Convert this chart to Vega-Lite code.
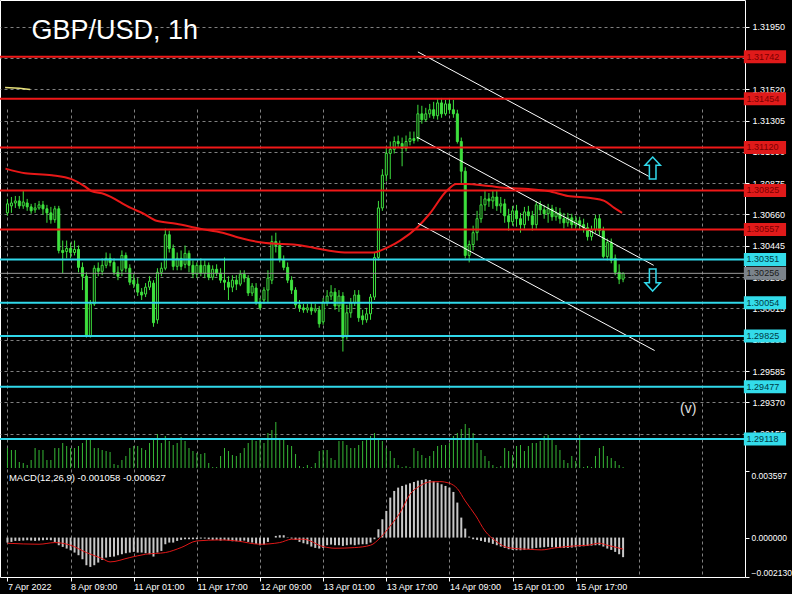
{
"$schema": "https://vega.github.io/schema/vega-lite/v6.json",
"background": "#000000",
"autosize": {"type": "none"},
"padding": {"left": 0, "top": 0, "right": 47, "bottom": 17},
"width": 745,
"height": 577,
"config": {
 "view": {"stroke": "#ffffff", "strokeWidth": 1},
 "axis": {"domain": false, "grid": true, "gridColor": "#808080", "gridDash": [3,3], "gridWidth": 1, "labelColor": "#ffffff", "tickColor": "#ffffff", "tickSize": 4, "labelFont": "Liberation Sans", "labelFontSize": 9, "zindex": 0, "labelOverlap": false, "labelBound": false},
 "text": {"font": "Liberation Sans"}
},
"datasets": {
 "bars": [
{"i":0,"o":1.30671,"h":1.30767,"l":1.30651,"c":1.30733,"v":2000,"m":-0.00027},
{"i":1,"o":1.30719,"h":1.3078,"l":1.30671,"c":1.30739,"v":1800,"m":-0.000234},
{"i":2,"o":1.30739,"h":1.30787,"l":1.30705,"c":1.30753,"v":1800,"m":-0.00018},
{"i":3,"o":1.30753,"h":1.30787,"l":1.30699,"c":1.30719,"v":600,"m":-0.00018},
{"i":4,"o":1.30719,"h":1.30821,"l":1.30699,"c":1.30746,"v":500,"m":-0.000162},
{"i":5,"o":1.30739,"h":1.30767,"l":1.30685,"c":1.30712,"v":300,"m":-0.000144},
{"i":6,"o":1.30712,"h":1.30733,"l":1.30665,"c":1.30685,"v":800,"m":-0.000162},
{"i":7,"o":1.30692,"h":1.30739,"l":1.30671,"c":1.30705,"v":2000,"m":-0.00018},
{"i":8,"o":1.30705,"h":1.30753,"l":1.30692,"c":1.30726,"v":1800,"m":-0.000162},
{"i":9,"o":1.30726,"h":1.30753,"l":1.30658,"c":1.30699,"v":1800,"m":-0.000144},
{"i":10,"o":1.30699,"h":1.30726,"l":1.30603,"c":1.30671,"v":800,"m":-0.000126},
{"i":11,"o":1.30671,"h":1.30712,"l":1.30597,"c":1.30624,"v":800,"m":-0.000144},
{"i":12,"o":1.30624,"h":1.30719,"l":1.30603,"c":1.30699,"v":2000,"m":-0.000234},
{"i":13,"o":1.30699,"h":1.30719,"l":1.30393,"c":1.30413,"v":2000,"m":-0.000414},
{"i":14,"o":1.30413,"h":1.30481,"l":1.30257,"c":1.30399,"v":2500,"m":-0.000504},
{"i":15,"o":1.30406,"h":1.30481,"l":1.30359,"c":1.30427,"v":2200,"m":-0.000594},
{"i":16,"o":1.30427,"h":1.30467,"l":1.30359,"c":1.30399,"v":2000,"m":-0.000684},
{"i":17,"o":1.30399,"h":1.30481,"l":1.30379,"c":1.3042,"v":2000,"m":-0.00081},
{"i":18,"o":1.3042,"h":1.30447,"l":1.30263,"c":1.30297,"v":2200,"m":-0.000954},
{"i":19,"o":1.30297,"h":1.30331,"l":1.30141,"c":1.30236,"v":2500,"m":-0.00117},
{"i":20,"o":1.30236,"h":1.30263,"l":1.29815,"c":1.29828,"v":3000,"m":-0.001494},
{"i":21,"o":1.29828,"h":1.30073,"l":1.29815,"c":1.30046,"v":2800,"m":-0.001584},
{"i":22,"o":1.30046,"h":1.30311,"l":1.30032,"c":1.30291,"v":2000,"m":-0.001494},
{"i":23,"o":1.30291,"h":1.30331,"l":1.30236,"c":1.3027,"v":2000,"m":-0.00135},
{"i":24,"o":1.3027,"h":1.30359,"l":1.30243,"c":1.30311,"v":1800,"m":-0.001206},
{"i":25,"o":1.30311,"h":1.30399,"l":1.30291,"c":1.30359,"v":1700,"m":-0.00108},
{"i":26,"o":1.30359,"h":1.30393,"l":1.30304,"c":1.30331,"v":1600,"m":-0.001044},
{"i":27,"o":1.30331,"h":1.30359,"l":1.30243,"c":1.30263,"v":400,"m":-0.001026},
{"i":28,"o":1.30263,"h":1.30304,"l":1.30209,"c":1.30236,"v":300,"m":-0.000954},
{"i":29,"o":1.30277,"h":1.30413,"l":1.30236,"c":1.30379,"v":800,"m":-0.0009},
{"i":30,"o":1.30379,"h":1.30399,"l":1.30263,"c":1.30291,"v":1200,"m":-0.000846},
{"i":31,"o":1.30291,"h":1.30318,"l":1.30175,"c":1.30195,"v":2000,"m":-0.00081},
{"i":32,"o":1.30209,"h":1.3025,"l":1.30155,"c":1.30182,"v":2200,"m":-0.000774},
{"i":33,"o":1.30182,"h":1.30223,"l":1.301,"c":1.30127,"v":2200,"m":-0.00081},
{"i":34,"o":1.30127,"h":1.30155,"l":1.30073,"c":1.30107,"v":2000,"m":-0.00081},
{"i":35,"o":1.30114,"h":1.30189,"l":1.30093,"c":1.30161,"v":1800,"m":-0.000846},
{"i":36,"o":1.30161,"h":1.30236,"l":1.30141,"c":1.30202,"v":2500,"m":-0.0009},
{"i":37,"o":1.30189,"h":1.30209,"l":1.29889,"c":1.29917,"v":3000,"m":-0.001026},
{"i":38,"o":1.29937,"h":1.30291,"l":1.2991,"c":1.30263,"v":3400,"m":-0.00081},
{"i":39,"o":1.30263,"h":1.30331,"l":1.30236,"c":1.30291,"v":2500,"m":-0.00072},
{"i":40,"o":1.30291,"h":1.30563,"l":1.30277,"c":1.30521,"v":3200,"m":-0.00036},
{"i":41,"o":1.30521,"h":1.30549,"l":1.30399,"c":1.30427,"v":2700,"m":-0.00027},
{"i":42,"o":1.30427,"h":1.30454,"l":1.30277,"c":1.30304,"v":2300,"m":-0.00027},
{"i":43,"o":1.30304,"h":1.30399,"l":1.30277,"c":1.30359,"v":2500,"m":-0.00018},
{"i":44,"o":1.30359,"h":1.30413,"l":1.30277,"c":1.30304,"v":3100,"m":-0.000126},
{"i":45,"o":1.30318,"h":1.30447,"l":1.30291,"c":1.30393,"v":2700,"m":-0.00009},
{"i":46,"o":1.30393,"h":1.30413,"l":1.30263,"c":1.30311,"v":2000,"m":-0.00009},
{"i":47,"o":1.30311,"h":1.30345,"l":1.30223,"c":1.3025,"v":1700,"m":-0.00009},
{"i":48,"o":1.3025,"h":1.30331,"l":1.30223,"c":1.30311,"v":1500,"m":-0.00009},
{"i":49,"o":1.30311,"h":1.30359,"l":1.30236,"c":1.30257,"v":1400,"m":-0.000054},
{"i":50,"o":1.30257,"h":1.30345,"l":1.30223,"c":1.30311,"v":1500,"m":-0.000054},
{"i":51,"o":1.30311,"h":1.30331,"l":1.30209,"c":1.30229,"v":500,"m":-0.00009},
{"i":52,"o":1.30229,"h":1.30311,"l":1.30209,"c":1.30284,"v":100,"m":-0.000126},
{"i":53,"o":1.30284,"h":1.30318,"l":1.30236,"c":1.30257,"v":100,"m":-0.000126},
{"i":54,"o":1.30257,"h":1.30291,"l":1.30189,"c":1.30209,"v":1200,"m":-0.000162},
{"i":55,"o":1.30209,"h":1.30365,"l":1.30141,"c":1.30195,"v":2000,"m":-0.000126},
{"i":56,"o":1.30195,"h":1.30236,"l":1.30073,"c":1.30161,"v":1700,"m":-0.000162},
{"i":57,"o":1.30161,"h":1.30243,"l":1.30127,"c":1.30209,"v":1300,"m":-0.000198},
{"i":58,"o":1.30209,"h":1.30243,"l":1.30141,"c":1.30182,"v":1200,"m":-0.000198},
{"i":59,"o":1.30182,"h":1.30277,"l":1.30168,"c":1.3025,"v":1500,"m":-0.00018},
{"i":60,"o":1.3025,"h":1.30277,"l":1.30195,"c":1.30223,"v":2000,"m":-0.000162},
{"i":61,"o":1.30223,"h":1.30243,"l":1.301,"c":1.30121,"v":2500,"m":-0.000234},
{"i":62,"o":1.30121,"h":1.30189,"l":1.301,"c":1.30168,"v":2800,"m":-0.00027},
{"i":63,"o":1.30155,"h":1.30189,"l":1.30039,"c":1.30059,"v":2700,"m":-0.000342},
{"i":64,"o":1.30059,"h":1.30087,"l":1.30005,"c":1.30019,"v":2800,"m":-0.000414},
{"i":65,"o":1.30073,"h":1.30161,"l":1.30046,"c":1.30141,"v":2500,"m":-0.000378},
{"i":66,"o":1.30141,"h":1.30277,"l":1.30059,"c":1.30223,"v":3500,"m":-0.000234},
{"i":67,"o":1.30209,"h":1.30515,"l":1.30182,"c":1.30474,"v":3800,"m":0},
{"i":68,"o":1.30474,"h":1.30535,"l":1.30399,"c":1.30447,"v":4600,"m":0.00009},
{"i":69,"o":1.30447,"h":1.30481,"l":1.30331,"c":1.30352,"v":3000,"m":0.000126},
{"i":70,"o":1.30352,"h":1.30379,"l":1.30277,"c":1.30297,"v":2800,"m":0.000126},
{"i":71,"o":1.30297,"h":1.30331,"l":1.30189,"c":1.30209,"v":2300,"m":0.000018},
{"i":72,"o":1.30209,"h":1.30236,"l":1.30114,"c":1.30141,"v":2200,"m":-0.000054},
{"i":73,"o":1.30141,"h":1.30161,"l":1.30019,"c":1.30039,"v":1400,"m":-0.000126},
{"i":74,"o":1.30039,"h":1.30073,"l":1.29991,"c":1.30019,"v":200,"m":-0.000234},
{"i":75,"o":1.30019,"h":1.30046,"l":1.29985,"c":1.30005,"v":100,"m":-0.000306},
{"i":76,"o":1.30005,"h":1.30046,"l":1.29985,"c":1.30019,"v":300,"m":-0.00036},
{"i":77,"o":1.30019,"h":1.30053,"l":1.29971,"c":1.29998,"v":100,"m":-0.000486},
{"i":78,"o":1.29998,"h":1.30046,"l":1.29985,"c":1.30012,"v":500,"m":-0.000558},
{"i":79,"o":1.30005,"h":1.30032,"l":1.29883,"c":1.2991,"v":1700,"m":-0.000594},
{"i":80,"o":1.29923,"h":1.30087,"l":1.29903,"c":1.30059,"v":1800,"m":-0.000558},
{"i":81,"o":1.30059,"h":1.30141,"l":1.30032,"c":1.301,"v":1800,"m":-0.000414},
{"i":82,"o":1.301,"h":1.30175,"l":1.30073,"c":1.30127,"v":1000,"m":-0.000378},
{"i":83,"o":1.30127,"h":1.30155,"l":1.30005,"c":1.30032,"v":800,"m":-0.000414},
{"i":84,"o":1.30032,"h":1.30141,"l":1.29991,"c":1.301,"v":2700,"m":-0.000414},
{"i":85,"o":1.301,"h":1.30127,"l":1.29719,"c":1.29815,"v":2700,"m":-0.00045},
{"i":86,"o":1.29821,"h":1.30039,"l":1.29801,"c":1.29985,"v":2300,"m":-0.000414},
{"i":87,"o":1.29985,"h":1.30087,"l":1.29951,"c":1.30053,"v":2000,"m":-0.000378},
{"i":88,"o":1.30053,"h":1.30141,"l":1.30032,"c":1.30107,"v":2000,"m":-0.000414},
{"i":89,"o":1.30107,"h":1.30141,"l":1.29923,"c":1.29951,"v":2300,"m":-0.000378},
{"i":90,"o":1.29964,"h":1.30005,"l":1.29903,"c":1.29937,"v":2700,"m":-0.00036},
{"i":91,"o":1.29937,"h":1.30019,"l":1.29917,"c":1.29978,"v":3000,"m":-0.00036},
{"i":92,"o":1.29978,"h":1.30114,"l":1.29937,"c":1.30093,"v":3200,"m":-0.00027},
{"i":93,"o":1.30093,"h":1.30399,"l":1.30073,"c":1.30365,"v":3500,"m":-0.00009},
{"i":94,"o":1.30365,"h":1.30753,"l":1.30345,"c":1.30705,"v":3000,"m":0.00045},
{"i":95,"o":1.30705,"h":1.30971,"l":1.30685,"c":1.3093,"v":2700,"m":0.00099},
{"i":96,"o":1.3093,"h":1.31127,"l":1.30889,"c":1.31079,"v":2000,"m":0.00144},
{"i":97,"o":1.31079,"h":1.31161,"l":1.30903,"c":1.31107,"v":1700,"m":0.00216},
{"i":98,"o":1.31107,"h":1.31195,"l":1.31079,"c":1.31161,"v":1000,"m":0.00252},
{"i":99,"o":1.31161,"h":1.31202,"l":1.3112,"c":1.31147,"v":300,"m":0.0027},
{"i":100,"o":1.31147,"h":1.31188,"l":1.30991,"c":1.31113,"v":100,"m":0.00279},
{"i":101,"o":1.31113,"h":1.31202,"l":1.31093,"c":1.31161,"v":200,"m":0.002862},
{"i":102,"o":1.31161,"h":1.31229,"l":1.31134,"c":1.31181,"v":100,"m":0.002934},
{"i":103,"o":1.31181,"h":1.31229,"l":1.31147,"c":1.31168,"v":2000,"m":0.003006},
{"i":104,"o":1.31181,"h":1.31413,"l":1.31161,"c":1.31351,"v":1700,"m":0.003078},
{"i":105,"o":1.31351,"h":1.31406,"l":1.31283,"c":1.31311,"v":1300,"m":0.003114},
{"i":106,"o":1.31311,"h":1.31392,"l":1.31297,"c":1.31351,"v":1000,"m":0.00315},
{"i":107,"o":1.31351,"h":1.31419,"l":1.31324,"c":1.31379,"v":1200,"m":0.003114},
{"i":108,"o":1.31379,"h":1.31433,"l":1.31317,"c":1.31338,"v":1700,"m":0.003042},
{"i":109,"o":1.31338,"h":1.31453,"l":1.31311,"c":1.31426,"v":2200,"m":0.00297},
{"i":110,"o":1.31426,"h":1.3146,"l":1.31324,"c":1.31351,"v":2300,"m":0.00288},
{"i":111,"o":1.31351,"h":1.31447,"l":1.31338,"c":1.31419,"v":2300,"m":0.00279},
{"i":112,"o":1.31419,"h":1.3146,"l":1.31351,"c":1.31379,"v":2500,"m":0.0027},
{"i":113,"o":1.31379,"h":1.31447,"l":1.31324,"c":1.31351,"v":3200,"m":0.002466},
{"i":114,"o":1.31351,"h":1.31379,"l":1.31147,"c":1.31161,"v":3500,"m":0.00189},
{"i":115,"o":1.31161,"h":1.31188,"l":1.30875,"c":1.30957,"v":3900,"m":0.00108},
{"i":116,"o":1.30957,"h":1.30984,"l":1.30359,"c":1.30379,"v":4400,"m":0.000486},
{"i":117,"o":1.30379,"h":1.30481,"l":1.30331,"c":1.30454,"v":4000,"m":0.000054},
{"i":118,"o":1.30454,"h":1.30583,"l":1.30413,"c":1.30535,"v":3500,"m":-0.00009},
{"i":119,"o":1.30535,"h":1.30685,"l":1.30481,"c":1.30631,"v":2500,"m":-0.000126},
{"i":120,"o":1.30631,"h":1.30787,"l":1.30603,"c":1.30726,"v":1800,"m":-0.00018},
{"i":121,"o":1.30726,"h":1.30821,"l":1.30685,"c":1.30767,"v":1200,"m":-0.000234},
{"i":122,"o":1.30767,"h":1.30807,"l":1.30712,"c":1.30753,"v":700,"m":-0.00027},
{"i":123,"o":1.30753,"h":1.30821,"l":1.30699,"c":1.3078,"v":300,"m":-0.000342},
{"i":124,"o":1.3078,"h":1.30821,"l":1.30685,"c":1.30719,"v":100,"m":-0.000414},
{"i":125,"o":1.30719,"h":1.3078,"l":1.30671,"c":1.30733,"v":200,"m":-0.000486},
{"i":126,"o":1.30733,"h":1.30767,"l":1.30603,"c":1.30651,"v":2000,"m":-0.000558},
{"i":127,"o":1.30651,"h":1.30699,"l":1.30549,"c":1.3061,"v":1700,"m":-0.00063},
{"i":128,"o":1.3061,"h":1.30719,"l":1.30583,"c":1.30685,"v":1300,"m":-0.000666},
{"i":129,"o":1.30685,"h":1.30726,"l":1.30576,"c":1.30631,"v":2200,"m":-0.000684},
{"i":130,"o":1.30631,"h":1.30671,"l":1.30535,"c":1.3059,"v":2300,"m":-0.000684},
{"i":131,"o":1.3059,"h":1.30712,"l":1.30563,"c":1.30678,"v":1700,"m":-0.000666},
{"i":132,"o":1.30678,"h":1.30719,"l":1.30617,"c":1.30651,"v":2200,"m":-0.00063},
{"i":133,"o":1.30651,"h":1.30685,"l":1.30549,"c":1.3059,"v":2500,"m":-0.000594},
{"i":134,"o":1.3059,"h":1.30753,"l":1.30563,"c":1.30726,"v":2500,"m":-0.000558},
{"i":135,"o":1.30726,"h":1.30753,"l":1.30658,"c":1.30692,"v":2700,"m":-0.00054},
{"i":136,"o":1.30692,"h":1.30726,"l":1.30631,"c":1.30665,"v":3200,"m":-0.000522},
{"i":137,"o":1.30665,"h":1.30733,"l":1.30603,"c":1.30699,"v":3300,"m":-0.000504},
{"i":138,"o":1.30699,"h":1.30726,"l":1.30617,"c":1.30644,"v":3000,"m":-0.000522},
{"i":139,"o":1.30644,"h":1.30712,"l":1.30617,"c":1.30671,"v":2300,"m":-0.00054},
{"i":140,"o":1.30671,"h":1.30705,"l":1.30597,"c":1.30631,"v":1800,"m":-0.000558},
{"i":141,"o":1.30631,"h":1.30671,"l":1.30563,"c":1.30603,"v":800,"m":-0.000558},
{"i":142,"o":1.30603,"h":1.30671,"l":1.30576,"c":1.30637,"v":500,"m":-0.000558},
{"i":143,"o":1.30637,"h":1.30665,"l":1.30563,"c":1.3059,"v":1200,"m":-0.00054},
{"i":144,"o":1.3059,"h":1.30651,"l":1.30563,"c":1.30617,"v":700,"m":-0.000522},
{"i":145,"o":1.30617,"h":1.30644,"l":1.30556,"c":1.3059,"v":3300,"m":-0.000486},
{"i":146,"o":1.3059,"h":1.30631,"l":1.30535,"c":1.30569,"v":100,"m":-0.000468},
{"i":147,"o":1.30569,"h":1.30603,"l":1.30481,"c":1.30508,"v":200,"m":-0.00045},
{"i":148,"o":1.30508,"h":1.30583,"l":1.30481,"c":1.30556,"v":100,"m":-0.000432},
{"i":149,"o":1.30556,"h":1.30658,"l":1.30535,"c":1.30631,"v":1200,"m":-0.000414},
{"i":150,"o":1.30631,"h":1.30658,"l":1.30515,"c":1.30549,"v":2000,"m":-0.000414},
{"i":151,"o":1.30549,"h":1.30576,"l":1.30359,"c":1.30372,"v":2200,"m":-0.000486},
{"i":152,"o":1.30372,"h":1.30495,"l":1.30345,"c":1.30467,"v":1200,"m":-0.000594},
{"i":153,"o":1.30467,"h":1.30495,"l":1.30325,"c":1.30345,"v":1000,"m":-0.000666},
{"i":154,"o":1.30359,"h":1.30385,"l":1.30243,"c":1.30263,"v":700,"m":-0.000774},
{"i":155,"o":1.30263,"h":1.30318,"l":1.30182,"c":1.30216,"v":300,"m":-0.0009},
{"i":156,"o":1.30216,"h":1.30263,"l":1.30195,"c":1.30256,"v":100,"m":-0.001058}
 ],
 "ma": [
{"i":-0.5,"p":1.30975},{"i":4.5,"p":1.30943},{"i":11.25,"p":1.3093},{"i":16.25,"p":1.30903},{"i":19.5,"p":1.30855},{"i":21.25,"p":1.30821},{"i":24.5,"p":1.30801},{"i":31.25,"p":1.30705},{"i":34.5,"p":1.30665},{"i":37.75,"p":1.30617},{"i":42.75,"p":1.30597},{"i":48.75,"p":1.30563},{"i":54.5,"p":1.30535},{"i":59.5,"p":1.30495},{"i":64.5,"p":1.30467},{"i":74.5,"p":1.30447},{"i":81.25,"p":1.30413},{"i":86.25,"p":1.30399},{"i":92.75,"p":1.30399},{"i":96.25,"p":1.30433},{"i":99.5,"p":1.30481},{"i":103.75,"p":1.30569},{"i":107,"p":1.30665},{"i":111.25,"p":1.30821},{"i":113.75,"p":1.30869},{"i":116.25,"p":1.30869},{"i":122,"p":1.30855},{"i":127,"p":1.30841},{"i":132,"p":1.30835},{"i":137,"p":1.30821},{"i":142,"p":1.30787},{"i":147.75,"p":1.30773},{"i":151.25,"p":1.30753},{"i":153.75,"p":1.30705},{"i":155.75,"p":1.30671}
 ],
 "ma2": [{"i":-0.6,"p":1.31531},{"i":3,"p":1.31527},{"i":5.75,"p":1.31518}],
 "sig": [
{"i":0,"s":-0.000306},{"i":8,"s":-0.00036},{"i":12,"s":-0.00027},{"i":16,"s":-0.000414},{"i":20,"s":-0.00081},{"i":24,"s":-0.001134},{"i":26,"s":-0.001314},{"i":31,"s":-0.00108},{"i":35,"s":-0.0009},{"i":40,"s":-0.00081},{"i":44,"s":-0.00054},{"i":48,"s":-0.00018},{"i":54,"s":-0.000126},{"i":58,"s":-0.00018},{"i":64,"s":-0.00036},{"i":69,"s":-0.00027},{"i":72,"s":-0.00009},{"i":75,"s":-0.00009},{"i":80,"s":-0.000486},{"i":83,"s":-0.000576},{"i":88,"s":-0.00054},{"i":92,"s":-0.000414},{"i":94.5,"s":0},{"i":97,"s":0.00063},{"i":99.5,"s":0.00135},{"i":102,"s":0.00234},{"i":104.5,"s":0.00279},{"i":107,"s":0.003006},{"i":109.5,"s":0.003024},{"i":112,"s":0.002934},{"i":114,"s":0.002646},{"i":116,"s":0.00198},{"i":118.7,"s":0.00117},{"i":121,"s":0.00036},{"i":123.7,"s":-0.00018},{"i":126,"s":-0.000486},{"i":128.7,"s":-0.000594},{"i":132,"s":-0.00063},{"i":135.3,"s":-0.000666},{"i":138.7,"s":-0.000558},{"i":143.7,"s":-0.00045},{"i":147,"s":-0.000414},{"i":150,"s":-0.000306},{"i":152,"s":-0.000414},{"i":154.5,"s":-0.00054},{"i":156,"s":-0.000627}
 ],
 "levels": [
{"p":1.31742,"k":"res"},{"p":1.31454,"k":"res"},{"p":1.3112,"k":"res"},{"p":1.30825,"k":"res"},{"p":1.30557,"k":"res"},
{"p":1.30351,"k":"sup"},{"p":1.30054,"k":"sup"},{"p":1.29825,"k":"sup"},{"p":1.29477,"k":"sup"},{"p":1.29118,"k":"sup"},
{"p":1.30256,"k":"cur"}
 ],
 "channel": [
{"ln":"a","i":104,"p":1.31776},{"ln":"a","i":162.5,"p":1.30922},
{"ln":"b","i":103.75,"p":1.31191},{"ln":"b","i":163.75,"p":1.30311},
{"ln":"c","i":104,"p":1.306},{"ln":"c","i":164,"p":1.29726}
 ],
 "arrows": [{"dir":"up","i":163.5,"p":1.30979},{"dir":"down","i":163.5,"p":1.3021}]
},
"layer": [
 {
  "data": {"name": "bars"},
  "mark": {"type": "rule", "color": "#36b836", "strokeWidth": 1},
  "encoding": {
   "x": {"field": "i", "type": "quantitative", "scale": {"domain": [-0.625, 185.625], "nice": false, "zero": false}, "title": null,
         "axis": {"values": [0,8,16,24,32,40,48,56,64,72,80,88,96,104,112,120,128,136,144,152,160,168,176,184],
                  "labelExpr": "datum.value==0?'7 Apr 2022':datum.value==16?'8 Apr 09:00':datum.value==32?'11 Apr 01:00':datum.value==48?'11 Apr 17:00':datum.value==64?'12 Apr 09:00':datum.value==80?'13 Apr 01:00':datum.value==96?'13 Apr 17:00':datum.value==112?'14 Apr 09:00':datum.value==128?'15 Apr 01:00':datum.value==144?'15 Apr 17:00':''",
                  "labelAlign": "left", "labelPadding": 1, "labelFlush": false, "grid": true,
                  "tickOpacity": {"condition": {"test": "datum.value % 16 == 0 && datum.value <= 144", "value": 1}, "value": 0}}},
   "y": {"field": "v", "type": "quantitative", "scale": {"domain": [0, 46800], "range": [468, 0], "nice": false}, "axis": null},
   "y2": {"datum": 0}
  }
 },
 {
  "layer": [
   {
    "data": {"name": "bars"},
    "mark": {"type": "rule", "color": "#3ee03e", "strokeWidth": 1},
    "encoding": {
     "x": {"field": "i", "type": "quantitative", "title": null},
     "y": {"field": "l", "type": "quantitative", "scale": {"domain": [1.28954, 1.32098], "range": [468, 0], "nice": false, "zero": false}, "title": null,
           "axis": {"orient": "right", "values": [1.3195, 1.31735, 1.3152, 1.31305, 1.3109, 1.30875, 1.3066, 1.30445, 1.3023, 1.30015, 1.298, 1.29585, 1.2937, 1.29155], "format": ".5f", "labelPadding": 3, "labelFlush": false, "grid": true}},
     "y2": {"field": "h"}
    }
   },
   {
    "data": {"name": "bars"},
    "mark": {"type": "bar", "width": 2, "stroke": "#3ee03e", "strokeWidth": 1},
    "encoding": {
     "x": {"field": "i", "type": "quantitative", "title": null},
     "y": {"field": "o", "type": "quantitative", "title": null},
     "y2": {"field": "c"},
     "fill": {"condition": {"test": "datum.c >= datum.o", "value": "#000000"}, "value": "#3ee03e"}
    }
   },
   {
    "data": {"name": "ma"},
    "mark": {"type": "line", "color": "#e81818", "strokeWidth": 2, "interpolate": "monotone"},
    "encoding": {
     "x": {"field": "i", "type": "quantitative", "title": null},
     "y": {"field": "p", "type": "quantitative", "title": null}
    }
   },
   {
    "data": {"name": "ma2"},
    "mark": {"type": "line", "color": "#e6e07a", "strokeWidth": 1.5},
    "encoding": {
     "x": {"field": "i", "type": "quantitative", "title": null},
     "y": {"field": "p", "type": "quantitative", "title": null}
    }
   },
   {
    "data": {"name": "channel"},
    "mark": {"type": "line", "color": "#ffffff", "strokeWidth": 1},
    "encoding": {
     "x": {"field": "i", "type": "quantitative", "title": null},
     "y": {"field": "p", "type": "quantitative", "title": null},
     "detail": {"field": "ln"}
    }
   },
   {
    "data": {"name": "levels"},
    "transform": [{"filter": "datum.k != 'cur'"}],
    "mark": {"type": "rule", "strokeWidth": 2},
    "encoding": {
     "y": {"field": "p", "type": "quantitative", "title": null},
     "color": {"condition": {"test": "datum.k == 'res'", "value": "#f01818"}, "value": "#30d8ea"}
    }
   },
   {
    "data": {"name": "levels"},
    "transform": [{"filter": "datum.k == 'cur'"}],
    "mark": {"type": "rule", "strokeWidth": 1, "color": "#9a9a9a"},
    "encoding": {
     "y": {"field": "p", "type": "quantitative", "title": null}
    }
   },
   {
    "data": {"name": "arrows"},
    "transform": [{"filter": "datum.dir == 'up'"}],
    "mark": {"type": "point", "shape": "M0,-1L0.7,-0.25L0.3,-0.25L0.3,1L-0.3,1L-0.3,-0.25L-0.7,-0.25Z", "filled": false, "stroke": "#30d8ea", "strokeWidth": 1.5, "size": 484, "opacity": 1},
    "encoding": {
     "x": {"field": "i", "type": "quantitative", "title": null},
     "y": {"field": "p", "type": "quantitative", "title": null}
    }
   },
   {
    "data": {"name": "arrows"},
    "transform": [{"filter": "datum.dir == 'down'"}],
    "mark": {"type": "point", "shape": "M0,1L0.7,0.25L0.3,0.25L0.3,-1L-0.3,-1L-0.3,0.25L-0.7,0.25Z", "filled": false, "stroke": "#30d8ea", "strokeWidth": 1.5, "size": 484, "opacity": 1},
    "encoding": {
     "x": {"field": "i", "type": "quantitative", "title": null},
     "y": {"field": "p", "type": "quantitative", "title": null}
    }
   },
   {
    "mark": {"type": "rect", "color": "#000000"},
    "encoding": {
     "x": {"datum": -0.625, "type": "quantitative"},
     "x2": {"datum": 185.625},
     "y": {"datum": 1.28954, "type": "quantitative"},
     "y2": {"datum": 1.28934}
    }
   },
   {
    "mark": {"type": "rule", "color": "#ffffff", "strokeWidth": 1},
    "encoding": {
     "y": {"datum": 1.28954, "type": "quantitative"}
    }
   },
   {
    "data": {"name": "levels"},
    "mark": {"type": "bar"},
    "encoding": {
     "x": {"datum": 186.6, "type": "quantitative"},
     "x2": {"datum": 197.3},
     "y": {"field": "p", "type": "quantitative", "title": null},
     "size": {"value": 13},
     "color": {"condition": [{"test": "datum.k == 'res'", "value": "#e01a1a"}, {"test": "datum.k == 'sup'", "value": "#33dcea"}], "value": "#7b838b"}
    }
   },
   {
    "data": {"name": "levels"},
    "mark": {"type": "text", "align": "left", "baseline": "middle", "fontSize": 9, "font": "Liberation Sans"},
    "encoding": {
     "x": {"datum": 187.3, "type": "quantitative"},
     "y": {"field": "p", "type": "quantitative", "title": null},
     "text": {"field": "p", "type": "quantitative", "format": ".5f"},
     "color": {"condition": [{"test": "datum.k == 'res'", "value": "#7a0000"}, {"test": "datum.k == 'sup'", "value": "#003a44"}], "value": "#1a1a1a"}
    }
   },
   {
    "data": {"values": [{"t": "GBP/USD, 1h", "i": 6.1, "p": 1.31863}]},
    "mark": {"type": "text", "align": "left", "baseline": "alphabetic", "fontSize": 27, "font": "Liberation Sans", "color": "#ffffff"},
    "encoding": {
     "x": {"field": "i", "type": "quantitative", "title": null},
     "y": {"field": "p", "type": "quantitative", "title": null},
     "text": {"field": "t"}
    }
   },
   {
    "data": {"values": [{"t": "(v)", "i": 172.5, "p": 1.29323}]},
    "mark": {"type": "text", "align": "center", "baseline": "middle", "fontSize": 14, "font": "Liberation Sans", "color": "#e0e0e0"},
    "encoding": {
     "x": {"field": "i", "type": "quantitative", "title": null},
     "y": {"field": "p", "type": "quantitative", "title": null},
     "text": {"field": "t"}
    }
   }
  ]
 },
 {
  "layer": [
   {
    "mark": {"type": "rule", "color": "#808080", "strokeDash": [3,3], "strokeWidth": 1},
    "encoding": {
     "y": {"datum": 0, "type": "quantitative", "scale": {"domain": [-0.00213, 0.003597], "range": [577, 471], "nice": false, "zero": false},
           "axis": {"orient": "right", "values": [-0.00213, 0, 0.003597], "format": ".6f", "labelFlush": true, "labelPadding": 2, "labelFontSize": 8.5, "grid": false}}
    }
   },
   {
    "mark": {"type": "rule", "color": "#ffffff", "strokeWidth": 1},
    "encoding": {
     "y": {"datum": 0.003597, "type": "quantitative"}
    }
   },
   {
    "data": {"name": "bars"},
    "mark": {"type": "rule", "color": "#c8c8c8", "strokeWidth": 2},
    "encoding": {
     "x": {"field": "i", "type": "quantitative", "title": null},
     "y": {"field": "m", "type": "quantitative", "title": null},
     "y2": {"datum": 0}
    }
   },
   {
    "data": {"name": "sig"},
    "mark": {"type": "line", "color": "#e01818", "strokeWidth": 1, "interpolate": "monotone"},
    "encoding": {
     "x": {"field": "i", "type": "quantitative", "title": null},
     "y": {"field": "s", "type": "quantitative", "title": null}
    }
   },
   {
    "data": {"values": [{"t": "MACD(12,26,9) -0.001058 -0.000627", "i": 0.375, "m": 0.003192}]},
    "mark": {"type": "text", "align": "left", "baseline": "middle", "fontSize": 9.5, "font": "Liberation Sans", "color": "#ffffff"},
    "encoding": {
     "x": {"field": "i", "type": "quantitative", "title": null},
     "y": {"field": "m", "type": "quantitative", "title": null},
     "text": {"field": "t"}
    }
   }
  ]
 }
],
"resolve": {"scale": {"y": "independent"}}
}
